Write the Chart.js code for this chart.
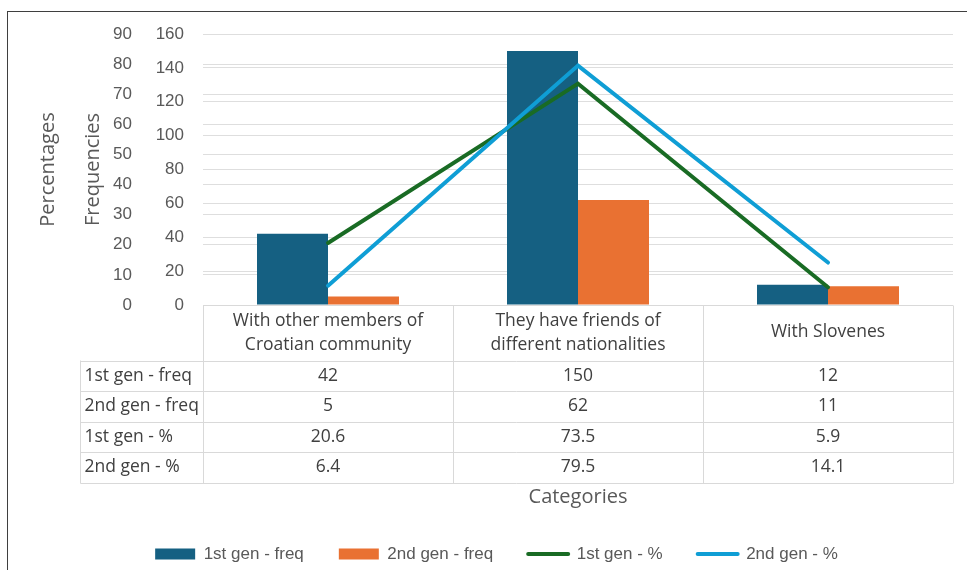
<!DOCTYPE html>
<html lang="en">
<head>
<meta charset="UTF-8">
<title>Friendships by generation</title>
<script src="https://cdn.jsdelivr.net/npm/chart.js"></script>
<style>
  html, body { margin: 0; padding: 0; overflow: hidden; background: #fff; }
  #wrap { position: relative; width: 967px; height: 570px; }
  #frame { position: absolute; left: 7px; top: 11px; width: 1000px; height: 600px; border: 1.5px solid #3f3f3f; }
  canvas { position: absolute; left: 0; top: 0; }
</style>
</head>
<body>
<div id="wrap">
  <div id="frame"></div>
  <canvas id="friendsChart" width="967" height="570"></canvas>
</div>
<script>
// categories and values
const categories = [
  ["With other members of", "Croatian community"],
  ["They have friends of", "different nationalities"],
  ["With Slovenes"]
];
const firstGenFreq = [42, 150, 12];
const secondGenFreq = [5, 62, 11];
const firstGenPct = [20.6, 73.5, 5.9];
const secondGenPct = [6.4, 79.5, 14.1];
const seriesNames = ["1st gen - freq", "2nd gen - freq", "1st gen - %", "2nd gen - %"];
const pctTitle = "Percentages";
const freqTitle = "Frequencies";

const textFont = "'Open Sans', sans-serif";
const tickFont = "'Liberation Sans', Arial, sans-serif";

// data table under the plot, columns follow the category scale
const dataTable = {
  id: "dataTable",
  afterDraw(chart) {
    const { ctx, chartArea, scales: { x } } = chart;
    const sets = chart.data.datasets;
    const top = Math.round(chartArea.bottom) + 0.5;
    const headH = 55, rowH = 30.5, labelLeft = 80.5;
    const colW = (x.right - x.left) / categories.length;
    const bottom = Math.round(top + headH + sets.length * rowH) + 0.5;

    ctx.save();
    ctx.strokeStyle = "#d9d9d9";
    ctx.lineWidth = 1;
    ctx.beginPath();
    ctx.moveTo(x.left, top);
    ctx.lineTo(x.right, top);
    for (let r = 0; r <= sets.length; r++) {
      const y = Math.round(top + headH + r * rowH) + 0.5;
      ctx.moveTo(labelLeft, y);
      ctx.lineTo(x.right, y);
    }
    ctx.moveTo(labelLeft, top + headH);
    ctx.lineTo(labelLeft, bottom);
    for (let c = 0; c <= categories.length; c++) {
      const xx = Math.round(x.left + c * colW) + 0.5;
      ctx.moveTo(xx, top);
      ctx.lineTo(xx, bottom);
    }
    ctx.stroke();

    ctx.fillStyle = "#404040";
    ctx.font = "17.5px " + textFont;
    ctx.textBaseline = "middle";
    ctx.textAlign = "center";
    categories.forEach((lines, i) => {
      const cx = x.getPixelForValue(i);
      if (lines.length === 1) {
        ctx.fillText(lines[0], cx, top + 27);
      } else {
        ctx.fillText(lines[0], cx, top + 16);
        ctx.fillText(lines[1], cx, top + 40);
      }
    });
    sets.forEach((ds, r) => {
      const cy = top + headH + r * rowH + rowH / 2;
      ctx.textAlign = "left";
      ctx.fillText(ds.label, labelLeft + 4, cy);
      ctx.textAlign = "center";
      ds.data.forEach((v, i) => ctx.fillText(String(v), x.getPixelForValue(i), cy));
    });
    ctx.restore();
  }
};

// both axis titles sit left of the tick columns
const axisTitles = {
  id: "axisTitles",
  afterDraw(chart) {
    const { ctx, chartArea } = chart;
    const cy = (chartArea.top + chartArea.bottom) / 2;
    ctx.save();
    ctx.fillStyle = "#595959";
    ctx.font = "20px " + textFont;
    ctx.textAlign = "center";
    ctx.textBaseline = "middle";
    [[pctTitle, 48], [freqTitle, 93]].forEach(([t, tx]) => {
      ctx.save();
      ctx.translate(tx, cy);
      ctx.rotate(-Math.PI / 2);
      ctx.fillText(t, 0, 0);
      ctx.restore();
    });
    ctx.restore();
  }
};

const ctx = document.getElementById("friendsChart").getContext("2d");

new Chart(ctx, {
  data: {
    labels: categories,
    datasets: [
      { type: "bar", label: seriesNames[0], data: firstGenFreq, yAxisID: "freq", backgroundColor: "#156082", order: 2 },
      { type: "bar", label: seriesNames[1], data: secondGenFreq, yAxisID: "freq", backgroundColor: "#E97132", order: 2 },
      { type: "line", label: seriesNames[2], data: firstGenPct, yAxisID: "pct", borderColor: "#196B24", backgroundColor: "#196B24",
        borderWidth: 4, pointRadius: 0, borderCapStyle: "round", order: 1 },
      { type: "line", label: seriesNames[3], data: secondGenPct, yAxisID: "pct", borderColor: "#0F9ED5", backgroundColor: "#0F9ED5",
        borderWidth: 4, pointRadius: 0, borderCapStyle: "round", order: 0 }
    ]
  },
  options: {
    responsive: false,
    animation: false,
    layout: { padding: { left: 40, right: 14, top: 34, bottom: -2.5 } },
    datasets: { bar: { categoryPercentage: 0.568, barPercentage: 1 } },
    scales: {
      x: {
        grid: { display: false },
        border: { display: false },
        ticks: { display: false },
        title: { display: true, text: "Categories", color: "#595959", font: { family: textFont, size: 20 }, padding: { top: 0, bottom: 1.5 } },
        afterFit(s) { s.height = 205.5; }
      },
      pct: {
        position: "left",
        weight: 2,
        min: 0, max: 90,
        ticks: { stepSize: 10, padding: 10, color: "#595959", font: { family: tickFont, size: 17 } },
        grid: { color: "#dedede", drawTicks: false },
        border: { display: false },
        afterFit(s) { s.width = 102; }
      },
      freq: {
        position: "left",
        weight: 1,
        min: 0, max: 160,
        ticks: { stepSize: 20, padding: 19, color: "#595959", font: { family: tickFont, size: 17 } },
        grid: { color: "#dedede", drawTicks: false },
        border: { display: false },
        afterFit(s) { s.width = 61; }
      }
    },
    plugins: {
      tooltip: { enabled: false },
      legend: {
        position: "bottom",
        labels: {
          usePointStyle: true,
          pointStyleWidth: 40,
          boxHeight: 11,
          padding: 35,
          color: "#595959",
          font: { family: tickFont, size: 17 },
          sort: (a, b) => a.datasetIndex - b.datasetIndex,
          generateLabels(chart) {
            const items = Chart.defaults.plugins.legend.labels.generateLabels(chart);
            return items.map(it => {
              const ds = chart.data.datasets[it.datasetIndex];
              if (ds.type === "line") {
                it.pointStyle = "line";
                it.strokeStyle = ds.borderColor;
                it.lineWidth = 4;
                it.lineCap = "round";
              } else {
                it.pointStyle = "rect";
                it.lineWidth = 0;
              }
              return it;
            });
          }
        }
      }
    }
  },
  plugins: [dataTable, axisTitles]
});
</script>
</body>
</html>
